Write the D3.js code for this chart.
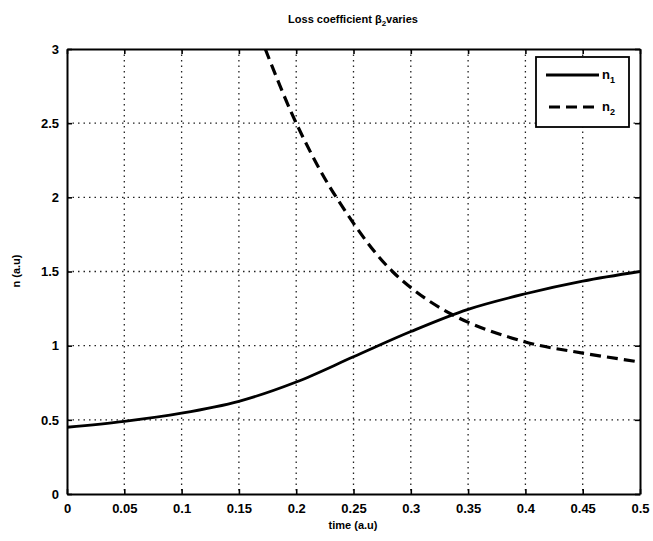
<!DOCTYPE html>
<html><head><meta charset="utf-8">
<script src="https://cdn.jsdelivr.net/npm/d3@7"></script>
<style>body{margin:0;background:#fff}svg{display:block}text{font-family:"Liberation Sans",Arial,sans-serif;fill:#000}</style>
</head><body><svg id="c" width="653" height="541"></svg>
<script>
const xTicks = [0,0.05,0.1,0.15,0.2,0.25,0.3,0.35,0.4,0.45,0.5];
const xTickLabels = ["0","0.05","0.1","0.15","0.2","0.25","0.3","0.35","0.4","0.45","0.5"];
const yTicks = [0,0.5,1,1.5,2,2.5,3];
const yTickLabels = ["0","0.5","1","1.5","2","2.5","3"];
const n1Time = [0,0.05,0.1,0.15,0.2,0.25,0.3,0.35,0.4,0.45,0.5];
const n1Values = [0.45,0.49,0.545,0.625,0.755,0.925,1.095,1.245,1.35,1.435,1.5];
const n2Time = [0.173,0.2,0.235,0.284,0.336,0.4,0.45,0.5];
const n2Values = [3.0,2.5,2.0,1.5,1.21,1.025,0.95,0.89];

const svg = d3.select("#c");
const L=67, R=640, T=49, B=494;
const x = d3.scaleLinear().domain([0,0.5]).range([L,R]);
const y = d3.scaleLinear().domain([0,3]).range([B,T]);

const g = svg.append("g");
g.selectAll("line.vg").data(xTicks.slice(1,-1)).join("line")
  .attr("x1",d=>x(d)).attr("x2",d=>x(d)).attr("y1",T).attr("y2",B)
  .attr("stroke","#222").attr("stroke-width",1.3).attr("stroke-dasharray","1.5,4");
g.selectAll("line.hg").data(yTicks.slice(1,-1)).join("line")
  .attr("y1",d=>y(d)).attr("y2",d=>y(d)).attr("x1",L).attr("x2",R)
  .attr("stroke","#222").attr("stroke-width",1.3).attr("stroke-dasharray","1.5,4");

const fmtX = (d,i)=>xTickLabels[i];
const fmtY = (d,i)=>yTickLabels[i];
const ax = svg.append("g").attr("transform",`translate(0,${B})`)
  .call(d3.axisBottom(x).tickValues(xTicks).tickFormat(fmtX).tickSizeInner(-5).tickSizeOuter(0).tickPadding(10));
const axT = svg.append("g").attr("transform",`translate(0,${T})`)
  .call(d3.axisTop(x).tickValues(xTicks).tickFormat("").tickSizeInner(-5).tickSizeOuter(0));
const ay = svg.append("g").attr("transform",`translate(${L},0)`)
  .call(d3.axisLeft(y).tickValues(yTicks).tickFormat(fmtY).tickSizeInner(-5).tickSizeOuter(0).tickPadding(8));
const ayR = svg.append("g").attr("transform",`translate(${R},0)`)
  .call(d3.axisRight(y).tickValues(yTicks).tickFormat("").tickSizeInner(-5).tickSizeOuter(0));
[ax,axT,ay,ayR].forEach(a=>{
  a.selectAll("path").attr("stroke","#000").attr("stroke-width",2);
  a.selectAll("line").attr("stroke","#000").attr("stroke-width",1.6);
  a.selectAll("text").attr("font-size",13).attr("font-weight","bold").style("font-family","'Liberation Sans',Arial,sans-serif").attr("fill","#000");
});

svg.append("clipPath").attr("id","clip").append("rect").attr("x",L).attr("y",T).attr("width",R-L).attr("height",B-T);

const line = d3.line().x(d=>x(d[0])).y(d=>y(d[1])).curve(d3.curveCatmullRom.alpha(0.5));
svg.append("path").datum(n1Time.map((t,i)=>[t,n1Values[i]]))
  .attr("d",line).attr("fill","none").attr("stroke","#000").attr("stroke-width",2.8).attr("clip-path","url(#clip)");
svg.append("path").datum(n2Time.map((t,i)=>[t,n2Values[i]]))
  .attr("d",line).attr("fill","none").attr("stroke","#000").attr("stroke-width",3.2)
  .attr("stroke-dasharray","11,6").attr("clip-path","url(#clip)");

const lg = svg.append("g");
lg.append("rect").attr("x",536).attr("y",57).attr("width",93).attr("height",70)
  .attr("fill","#fff").attr("stroke","#000").attr("stroke-width",1.8);
lg.append("line").attr("x1",546).attr("x2",599).attr("y1",75).attr("y2",75).attr("stroke","#000").attr("stroke-width",2.8);
lg.append("line").attr("x1",549).attr("x2",599).attr("y1",107).attr("y2",107).attr("stroke","#000").attr("stroke-width",3.2).attr("stroke-dasharray","11,6");
const leg = [["n","1",79],["n","2",111]];
leg.forEach(([a,s,yy])=>{
  const t = lg.append("text").attr("x",602).attr("y",yy).attr("font-size",13).attr("font-weight","bold");
  t.append("tspan").text(a);
  t.append("tspan").attr("font-size",9).attr("dy",4).text(s);
});

const tt = svg.append("text").attr("x",353).attr("y",23).attr("text-anchor","middle").attr("font-size",11).attr("font-weight","bold");
tt.append("tspan").text("Loss coefficient β");
tt.append("tspan").attr("font-size",8).attr("dy",3).text("2");
tt.append("tspan").attr("dy",-3).text("varies");

svg.append("text").attr("x",353).attr("y",529).attr("text-anchor","middle").attr("font-size",11).attr("font-weight","bold").text("time (a.u)");
svg.append("text").attr("transform","translate(20,271) rotate(-90)").attr("text-anchor","middle").attr("font-size",11).attr("font-weight","bold").text("n (a.u)");
</script></body></html>
